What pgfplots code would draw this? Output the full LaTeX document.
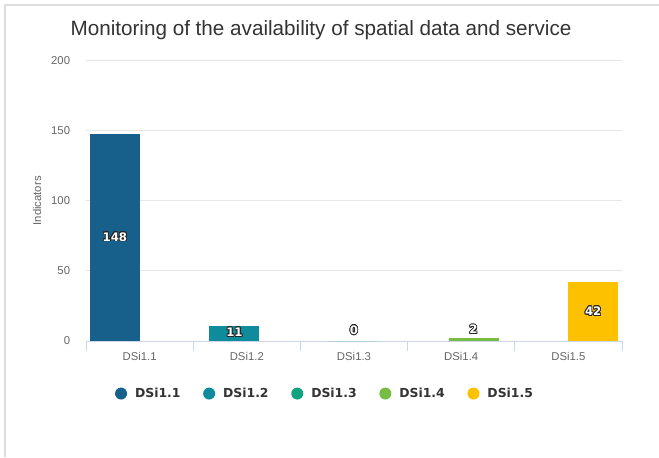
\documentclass[border=0pt]{standalone}
\usepackage{fontspec}
\setmainfont{Liberation Sans}
\newfontfamily\legfont{DejaVu Sans}
\usepackage{pgfplots}
\pgfplotsset{compat=1.18}
\usepackage{contour}
\contourlength{0.6pt}
\contournumber{16}

\definecolor{c1}{HTML}{17608B}
\definecolor{c2}{HTML}{0E8C9B}
\definecolor{c3}{HTML}{11A37E}
\definecolor{c4}{HTML}{77BC43}
\definecolor{c5}{HTML}{FDC100}
\definecolor{framec}{HTML}{DDDDDD}
\definecolor{gridc}{HTML}{E6E6E6}
\definecolor{axc}{HTML}{CCD6EB}
\definecolor{tickc}{HTML}{666666}
\definecolor{titlec}{HTML}{333333}

\pgfplotsset{
  dotlegend/.style={legend image code/.code={\fill[##1,draw=none] (4.5pt,0pt) circle (4.5pt);}},
}
\newcommand{\lbl}[1]{\contour{black!85}{#1}}

\begin{document}
\begin{tikzpicture}
  \useasboundingbox (0,0) rectangle (494.25pt,342.75pt);
  \fill[white] (0,0) rectangle (494.25pt,342.75pt);
  \draw[framec, line width=0.9pt] (3.75pt,0) -- (3.75pt,339pt) -- (494.25pt,339pt);
  \node[font=\fontsize{15.5}{18}\selectfont, text=titlec] at (240.75pt,320pt)
    {Monitoring of the availability of spatial data and service};

  \begin{axis}[
    at={(64.5pt,87pt)}, anchor=south west,
    scale only axis, width=402pt, height=210.2pt,
    xmin=-0.5, xmax=4.5, ymin=0, ymax=200,
    axis x line*=bottom, axis y line*=left,
    y axis line style={draw=none},
    x axis line style={draw=axc, line width=0.75pt},
    xtick={0,1,2,3,4},
    xticklabels={DSi1.1,DSi1.2,DSi1.3,DSi1.4,DSi1.5},
    minor xtick={-0.5,0.5,1.5,2.5,3.5,4.5},
    ytick={0,50,100,150,200},
    major tick length=0pt, minor tick length=7.5pt, tick align=outside,
    minor tick style={draw=axc, line width=0.75pt},
    ymajorgrids, grid style={draw=gridc, line width=0.75pt},
    /pgf/number format/assume math mode=true,
    tick label style={font=\fontsize{8.5}{10}\selectfont, text=tickc},
    xticklabel style={yshift=-5.3pt},
    yticklabel style={xshift=-8.4pt},
    ylabel={Indicators},
    every axis y label/.style={at={(axis description cs:-0.0914,0.5)}, rotate=90,
      anchor=center, font=\fontsize{8.5}{10}\selectfont, text=tickc},
    legend columns=5,
    legend style={at={(0.444,-0.1875)}, anchor=center, draw=none, fill=none,
      font=\legfont\bfseries\fontsize{9.3}{11}\selectfont, text=titlec,
      nodes={inner sep=0pt},
      /tikz/every odd column/.append style={column sep=6pt},
      /tikz/every even column/.append style={column sep=17pt}},
  ]
    \addplot[ybar, bar shift=0pt, bar width=0.466, fill=c1, draw=none, dotlegend]
      coordinates {(-0.231,148)};
    \addlegendentry{DSi1.1}
    \addplot[ybar, bar shift=0pt, bar width=0.466, fill=c2, draw=none, dotlegend]
      coordinates {(0.885,11)};
    \addlegendentry{DSi1.2}
    \addplot[ybar, bar shift=0pt, bar width=0.466, fill=c3, draw=none, dotlegend]
      coordinates {(2,0)};
    \addlegendentry{DSi1.3}
    \addplot[ybar, bar shift=0pt, bar width=0.466, fill=c4, draw=none, dotlegend]
      coordinates {(3.115,2)};
    \addlegendentry{DSi1.4}
    \addplot[ybar, bar shift=0pt, bar width=0.466, fill=c5, draw=none, dotlegend]
      coordinates {(4.231,42)};
    \addlegendentry{DSi1.5}

    % data labels
    \begin{scope}[every node/.style={font=\legfont\bfseries\fontsize{8.8}{10}\selectfont, text=white}]
      \node at (axis cs:-0.231,74) {\lbl{148}};
      \node at (axis cs:0.885,6) {\lbl{11}};
      \node at (axis cs:2,7.5) {\lbl{0}};
      \node at (axis cs:3.115,8) {\lbl{2}};
      \node at (axis cs:4.231,21) {\lbl{42}};
    \end{scope}
  \end{axis}
\end{tikzpicture}
\end{document}
